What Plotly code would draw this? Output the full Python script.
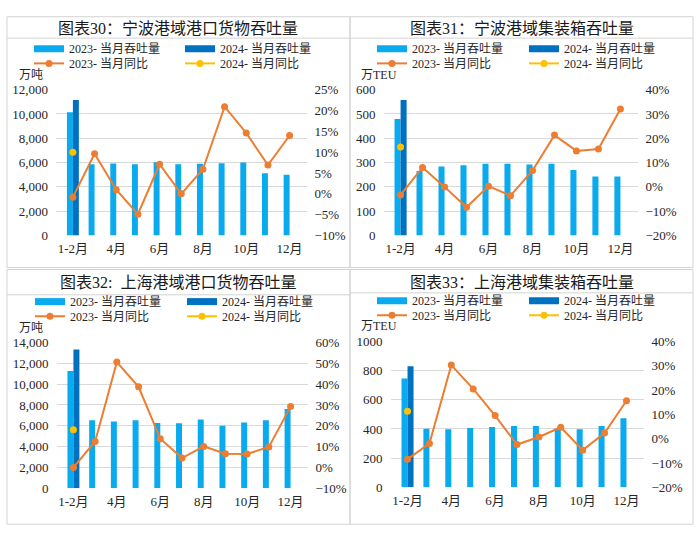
import plotly.graph_objects as go

W, H = 700, 542

cats = ["1-2月", "3月", "4月", "5月", "6月", "7月", "8月", "9月", "10月", "11月", "12月"]
tick_cats = ["1-2月", "4月", "6月", "8月", "10月", "12月"]

# 图表30 宁波港域港口货物吞吐量 (万吨, %)
nb_cargo_2023 = [10150, 5870, 5920, 5870, 6030, 5870, 5900, 5950, 6000, 5120, 5000]
nb_cargo_2024 = [11150]
nb_cargo_yoy_2023 = [-0.8, 9.6, 1.0, -4.9, 7.1, 0.0, 5.9, 20.9, 14.6, 6.9, 14.0]
nb_cargo_yoy_2024 = [10.0]

# 图表31 宁波港域集装箱吞吐量 (万TEU, %)
nb_teu_2023 = [479, 265, 284, 289, 295, 295, 292, 295, 269, 243, 243]
nb_teu_2024 = [557]
nb_teu_yoy_2023 = [-3.3, 8.0, 0.0, -8.4, 0.3, -3.6, 6.7, 21.3, 14.8, 15.6, 32.0]
nb_teu_yoy_2024 = [16.4]

# 图表32 上海港域港口货物吞吐量 (万吨, %)
sh_cargo_2023 = [11260, 6530, 6410, 6530, 6280, 6250, 6600, 6000, 6320, 6530, 7620]
sh_cargo_2024 = [13320]
sh_cargo_yoy_2023 = [0.0, 12.5, 50.6, 38.7, 13.8, 4.5, 10.1, 6.6, 6.5, 9.8, 29.2]
sh_cargo_yoy_2024 = [18.1]

# 图表33 上海港域集装箱吞吐量 (万TEU, %)
sh_teu_2023 = [747, 402, 398, 407, 413, 420, 420, 404, 398, 420, 473]
sh_teu_2024 = [831]
sh_teu_yoy_2023 = [-8.4, -2.0, 30.3, 20.5, 9.5, -2.4, 0.7, 4.7, -4.7, 2.3, 15.6]
sh_teu_yoy_2024 = [11.3]

titles = ["图表30：宁波港域港口货物吞吐量", "图表31：宁波港域集装箱吞吐量",
          "图表32:  上海港域港口货物吞吐量", "图表33：上海港域集装箱吞吐量"]
units = ["万吨", "万TEU", "万吨", "万TEU"]
legend_names = ["2023- 当月吞吐量", "2024- 当月吞吐量", "2023- 当月同比", "2024- 当月同比"]

C23 = "#0AAAEE"
C24 = "#0070C0"
CLINE = "#ED7D31"
CYEL = "#FFC000"
GRID = "#D9D9D9"
BORDER = "#D3D3D3"
TXT = "#262626"
FONT = "Liberation Serif, Noto Sans CJK SC, serif"

data = [
    (nb_cargo_2023, nb_cargo_2024, nb_cargo_yoy_2023, nb_cargo_yoy_2024),
    (nb_teu_2023, nb_teu_2024, nb_teu_yoy_2023, nb_teu_yoy_2024),
    (sh_cargo_2023, sh_cargo_2024, sh_cargo_yoy_2023, sh_cargo_yoy_2024),
    (sh_teu_2023, sh_teu_2024, sh_teu_yoy_2023, sh_teu_yoy_2024),
]

# axis settings: (left range, left dtick, left format, right range, right dtick)
axes_cfg = [
    ((0, 12000), 2000, ",d", (-10, 25), 5),
    ((0, 600), 100, "d", (-20, 40), 10),
    ((0, 14000), 2000, ",d", (-10, 60), 10),
    ((0, 1000), 200, "d", (-20, 40), 10),
]

# layout geometry in pixels
plot_px = [  # x0, x1, ytop, ybottom
    (56, 306.5, 85, 235),
    (383.5, 637.5, 85, 235),
    (56.5, 307.5, 345, 495),
    (390.5, 643.5, 344, 494),
]
panel_px = [  # x0, y0, x1, y1, title_line_y, title_x, title_y, unit_x, unit_y
    (7, 10, 350, 268, 32, 178, 22, 17, 70),
    (350, 10, 693, 268, 32, 522, 22, 359, 70),
    (7, 270, 350, 532, 296, 178, 283, 17, 330),
    (350, 270, 693, 532, 294, 522, 283, 359, 328),
]
legend_px = [  # col1 x, col2 x, row1 y, row2 y
    (29, 180, 43, 58),
    (372, 524, 43, 58),
    (30, 182, 303, 318),
    (372, 524, 302, 317),
]


def px_x(v):
    return v / W


def px_y(v):
    return 1 - v / H


fig = go.Figure()
layout = dict(
    width=W, height=H, margin=dict(l=0, r=0, t=0, b=0),
    paper_bgcolor="white", plot_bgcolor="rgba(0,0,0,0)",
    barmode="group", bargap=0.45, bargroupgap=0,
    font=dict(family=FONT, size=12, color=TXT),
    showlegend=True,
)
shapes = []
annotations = []

for i in range(4):
    n = i + 1
    xa = "x" if n == 1 else f"x{n}"
    yl_id = 2 * i + 1
    yr_id = 2 * i + 2
    yl = "y" if yl_id == 1 else f"y{yl_id}"
    yr = f"y{yr_id}"
    lg_ids = [("legend" if (4 * i + k) == 0 else f"legend{4 * i + k + 1}") for k in range(4)]
    v23, v24, r23, r24 = data[i]
    (lrange, ldt, lfmt, rrange, rdt) = axes_cfg[i]
    x0, x1, yt, yb = plot_px[i]

    # bars
    fig.add_trace(go.Bar(x=cats, y=v23, marker_color=C23, marker_line_width=0,
                         xaxis=xa, yaxis=yl, showlegend=False, name=legend_names[0]))
    fig.add_trace(go.Bar(x=cats[:1], y=v24, marker_color=C24, marker_line_width=0,
                         xaxis=xa, yaxis=yl, showlegend=False, name=legend_names[1]))
    # legend proxies for bars (wide rectangles)
    fig.add_trace(go.Scatter(x=[None], y=[None], mode="lines", line=dict(color=C23, width=7),
                             name=legend_names[0], xaxis=xa, yaxis=yl, legend=lg_ids[0]))
    fig.add_trace(go.Scatter(x=[None], y=[None], mode="lines", line=dict(color=C24, width=7),
                             name=legend_names[1], xaxis=xa, yaxis=yl, legend=lg_ids[1]))
    # lines
    fig.add_trace(go.Scatter(x=cats, y=r23, mode="lines+markers",
                             line=dict(color=CLINE, width=2),
                             marker=dict(color=CLINE, size=7),
                             name=legend_names[2], xaxis=xa, yaxis=yr, legend=lg_ids[2]))
    fig.add_trace(go.Scatter(x=cats[:1], y=r24, mode="lines+markers",
                             line=dict(color=CYEL, width=2),
                             marker=dict(color=CYEL, size=7),
                             name=legend_names[3], xaxis=xa, yaxis=yr, legend=lg_ids[3]))

    xkey = "xaxis" if n == 1 else f"xaxis{n}"
    ylkey = "yaxis" if yl_id == 1 else f"yaxis{yl_id}"
    yrkey = f"yaxis{yr_id}"
    layout[xkey] = dict(
        domain=[px_x(x0), px_x(x1)], anchor=yl, type="category",
        categoryorder="array", categoryarray=cats,
        tickmode="array", tickvals=tick_cats, ticktext=tick_cats,
        showgrid=False, showline=False, zeroline=False, ticks="",
        tickfont=dict(size=13, color=TXT, family=FONT), ticklabelstandoff=4,
        fixedrange=True,
    )
    layout[ylkey] = dict(
        domain=[px_y(yb), px_y(yt)], anchor=xa, range=list(lrange), dtick=ldt,
        tick0=0, tickformat=lfmt, showgrid=True, gridcolor=GRID, gridwidth=1,
        zeroline=False, showline=False, ticks="",
        tickfont=dict(size=13, color=TXT, family=FONT), ticklabelstandoff=7,
    )
    layout[yrkey] = dict(
        domain=[px_y(yb), px_y(yt)], anchor=xa, overlaying=yl, side="right",
        range=list(rrange), dtick=rdt, tick0=0, ticksuffix="%",
        showgrid=False, zeroline=False, showline=False, ticks="",
        tickfont=dict(size=13, color=TXT, family=FONT), ticklabelstandoff=7,
    )

    # legends: one entry each, placed in a 2x2 grid
    c1x, c2x, r1y, r2y = legend_px[i]
    positions = [(c1x, r1y), (c2x, r1y), (c1x, r2y), (c2x, r2y)]
    for lg, (lx, ly) in zip(lg_ids, positions):
        layout[lg] = dict(
            x=px_x(lx), y=px_y(ly), xanchor="left", yanchor="middle",
            orientation="v", bgcolor="rgba(0,0,0,0)", borderwidth=0,
            font=dict(size=12, color=TXT, family=FONT), itemwidth=30,
        )

    # panel box and title line
    bx0, by0, bx1, by1, tly, tx, ty, ux, uy = panel_px[i]
    shapes.append(dict(type="rect", xref="paper", yref="paper",
                       x0=px_x(bx0), x1=px_x(bx1), y0=px_y(by1), y1=px_y(by0),
                       line=dict(color=BORDER, width=1), layer="below"))
    shapes.append(dict(type="line", xref="paper", yref="paper",
                       x0=px_x(bx0), x1=px_x(bx1), y0=px_y(tly), y1=px_y(tly),
                       line=dict(color=BORDER, width=1), layer="below"))
    annotations.append(dict(text=titles[i], xref="paper", yref="paper",
                            x=px_x(tx), y=px_y(ty), xanchor="center", yanchor="middle",
                            showarrow=False, font=dict(size=16, color="#1a1a1a", family=FONT)))
    annotations.append(dict(text=units[i], xref="paper", yref="paper",
                            x=px_x(ux), y=px_y(uy), xanchor="left", yanchor="middle",
                            showarrow=False, font=dict(size=12, color=TXT, family=FONT)))

layout["shapes"] = shapes
layout["annotations"] = annotations
fig.update_layout(**layout)
fig.write_html("out.html", config={"displayModeBar": False},
               post_script="document.body.style.margin='0px';")
